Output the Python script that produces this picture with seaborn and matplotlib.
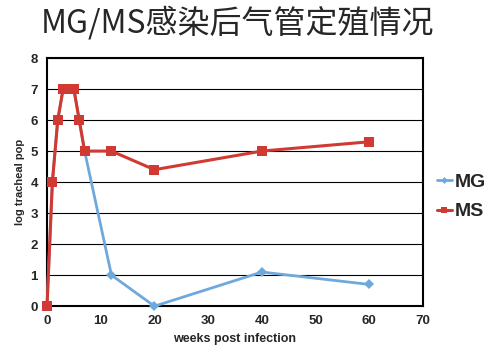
import pandas as pd
import matplotlib.pyplot as plt
import seaborn as sns

# 数据
weeks = [0, 1, 2, 3, 4, 5, 6, 7, 12, 20, 40, 60]
mg = [0, 4, 6, 7, 7, 7, 6, 5, 1, 0, 1.1, 0.7]
ms = [0, 4, 6, 7, 7, 7, 6, 5, 5, 4.4, 5, 5.3]

sns.set_style('white')
plt.rcParams['font.family'] = ['Liberation Sans', 'Noto Sans CJK SC', 'DejaVu Sans']

fig = plt.figure(figsize=(5, 3.56), dpi=100)
ax = fig.add_axes([0.094, 0.14, 0.752, 0.697])

# 先画 MG，再画 MS（MS 在上层）
sns.lineplot(x=weeks, y=mg, color='#6fa8dc', marker='D', label='MG',
             markersize=5, linewidth=2, markeredgewidth=0, clip_on=False,
             zorder=3, ax=ax)
sns.lineplot(x=weeks, y=ms, color='#d03a32', marker='s', label='MS',
             markersize=7, linewidth=2.2, markeredgewidth=0, clip_on=False,
             zorder=4, ax=ax)

ax.set_xlim(0, 70)
ax.set_ylim(0, 8)
ax.set_xticks(range(0, 71, 10))
ax.set_yticks(range(0, 9))
ax.yaxis.grid(True, color='black', linewidth=0.8)
for s in ax.spines.values():
    s.set_color('black')
    s.set_linewidth(1.5)
ax.tick_params(axis='both', labelsize=9.5, length=3, direction='out', color='black')
for lab in ax.get_xticklabels() + ax.get_yticklabels():
    lab.set_fontweight('bold')
ax.set_xlabel('weeks post infection', fontsize=9, fontweight='bold')
ax.set_ylabel('log tracheal pop', fontsize=8, fontweight='bold')

leg = ax.legend(loc='center left', bbox_to_anchor=(1.0, 0.44), frameon=False,
                handlelength=0.8, handletextpad=0.15, labelspacing=0.6,
                borderpad=0.2, markerscale=0.7,
                prop={'weight': 'bold', 'size': 14})
fig.suptitle('MG/MS感染后气管定殖情况', x=0.475, y=0.985, fontsize=23,
             family=['Noto Sans CJK SC', 'DejaVu Sans'])

fig.savefig('out.png', dpi=100)
